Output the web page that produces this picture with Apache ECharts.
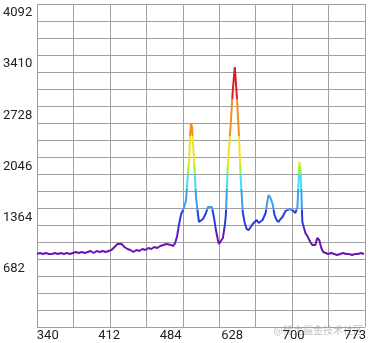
<!DOCTYPE html>
<html>
<head>
<meta charset="utf-8">
<script src="https://cdn.jsdelivr.net/npm/echarts@6/dist/echarts.min.js"></script>
<style>html,body{margin:0;padding:0;background:#fff}#c{width:371px;height:343px}</style>
</head>
<body>
<div id="c"></div>
<script>
var wavelengths = [340,343.9,347.9,351.8,355.7,359.7,363.6,367.6,371.5,375.4,379.4,383.3,387.2,391.2,395.1,399.0,403.0,406.9,410.9,414.8,418.7,422.7,426.6,430.5,434.5,438.4,442.3,446.3,448.9,451.5,455.5,459.4,463.3,467.3,471.2,475.1,479.1,483.0,487.0,490.9,494.8,498.8,502.7,506.6,510.6,513.2,517.1,519.8,522.4,525.0,527.6,530.3,532.9,534.2,536.8,538.1,540.8,542.1,543.4,544.7,547.3,549.9,552.6,553.9,556.5,559.1,563.1,565.7,568.3,570.9,573.5,576.2,578.8,580.1,582.7,585.4,588.0,589.3,591.9,595.9,598.5,601.1,603.7,606.4,609.0,611.6,614.2,616.8,619.5,622.1,624.7,627.3,630.0,632.6,635.2,637.8,641.8,644.4,645.7,648.3,651.0,653.6,656.2,658.8,661.5,664.1,668.0,670.6,673.3,677.2,681.1,683.8,685.1,686.4,687.7,689.0,690.3,694.3,696.9,700.8,703.4,707.4,710.0,712.6,715.3,717.9,720.5,724.4,728.4,732.3,736.2,740.2,744.1,748.1,752.0,755.9,759.9,763.8,767.7,771.7];
var intensities = [882,895,882,895,882,882,895,882,895,882,895,882,895,908,895,908,895,908,922,895,922,908,922,908,922,935,975,1015,1028,1015,975,948,935,908,935,922,948,935,962,948,975,962,988,1002,1015,1028,1002,988,1028,1122,1281,1415,1468,1508,1601,1801,2134,2467,2626,2560,2134,1641,1401,1308,1321,1348,1428,1508,1534,1508,1375,1201,1068,1015,1028,1095,1268,1401,2067,2640,3066,3373,2999,2507,1867,1441,1295,1215,1201,1215,1281,1308,1335,1295,1321,1335,1428,1601,1668,1628,1548,1401,1335,1308,1348,1375,1455,1481,1481,1468,1428,1508,1801,2107,2001,1694,1308,1162,1122,1042,1002,1002,1095,1068,962,908,895,882,895,882,868,882,895,882,882,868,882,882,895,882];
var yTicks = [682,1364,2046,2728,3410,4092];
var xLabels = ['340','412','484','628','700','773'];

var chart = echarts.init(document.getElementById('c'), null, {renderer:'canvas'});
var data = wavelengths.map(function(w,i){return [w, intensities[i]];});
var gridColor = '#a0a0a0';
chart.setOption({
  animation:false,
  grid:{left:35,right:6,top:4,bottom:16},
  xAxis:[
    {type:'value',min:340,max:773,show:false,splitLine:{show:false}},
    {type:'value',min:-0.1746,max:5.162,position:'bottom',
      axisLine:{show:false},axisTick:{show:false},splitLine:{show:false},
      axisLabel:{customValues:[0,1,2,3,4,5],margin:2,fontSize:13,color:'#222',fontFamily:'Roboto',
        formatter:function(v){return xLabels[Math.round(v)];}}},
    {type:'value',min:0,max:9,interval:1,axisLabel:{show:false},axisTick:{show:false},
      axisLine:{show:false},splitLine:{show:true,lineStyle:{color:gridColor,width:1}}}
  ],
  yAxis:[
    {type:'value',min:-90.6,max:4212,axisLine:{show:false},axisTick:{show:false},splitLine:{show:false},
      axisLabel:{customValues:yTicks,align:'left',margin:34,fontSize:13,color:'#222',fontFamily:'Roboto',
        formatter:function(v){return String(Math.round(v));}}},
    {type:'value',min:0,max:19,interval:1,axisLabel:{show:false},axisTick:{show:false},
      axisLine:{show:false},splitLine:{show:true,lineStyle:{color:gridColor,width:1}}}
  ],
  visualMap:{type:'piecewise',show:false,dimension:1,seriesIndex:0,
    pieces:[
      {lt:1200,color:'#6818b0'},
      {gte:1200,lt:1470,color:'#2a3be0'},
      {gte:1470,lt:1750,color:'#3a9ff0'},
      {gte:1750,lt:1950,color:'#40e0ee'},
      {gte:1950,lt:2050,color:'#9ef03a'},
      {gte:2050,lt:2450,color:'#eee41e'},
      {gte:2450,lt:2950,color:'#f0901e'},
      {gte:2950,color:'#d81e26'}
    ]},
  series:[{type:'line',xAxisIndex:0,yAxisIndex:0,data:data,showSymbol:false,symbol:'none',
    lineStyle:{width:2},smooth:false}],
  graphic:[{type:'text',right:8,bottom:8,style:{text:'@稀土掘金技术社区',font:'10px "Noto Sans CJK SC"',fill:'rgba(140,140,140,0.55)'}}]
});
</script>
</body>
</html>
